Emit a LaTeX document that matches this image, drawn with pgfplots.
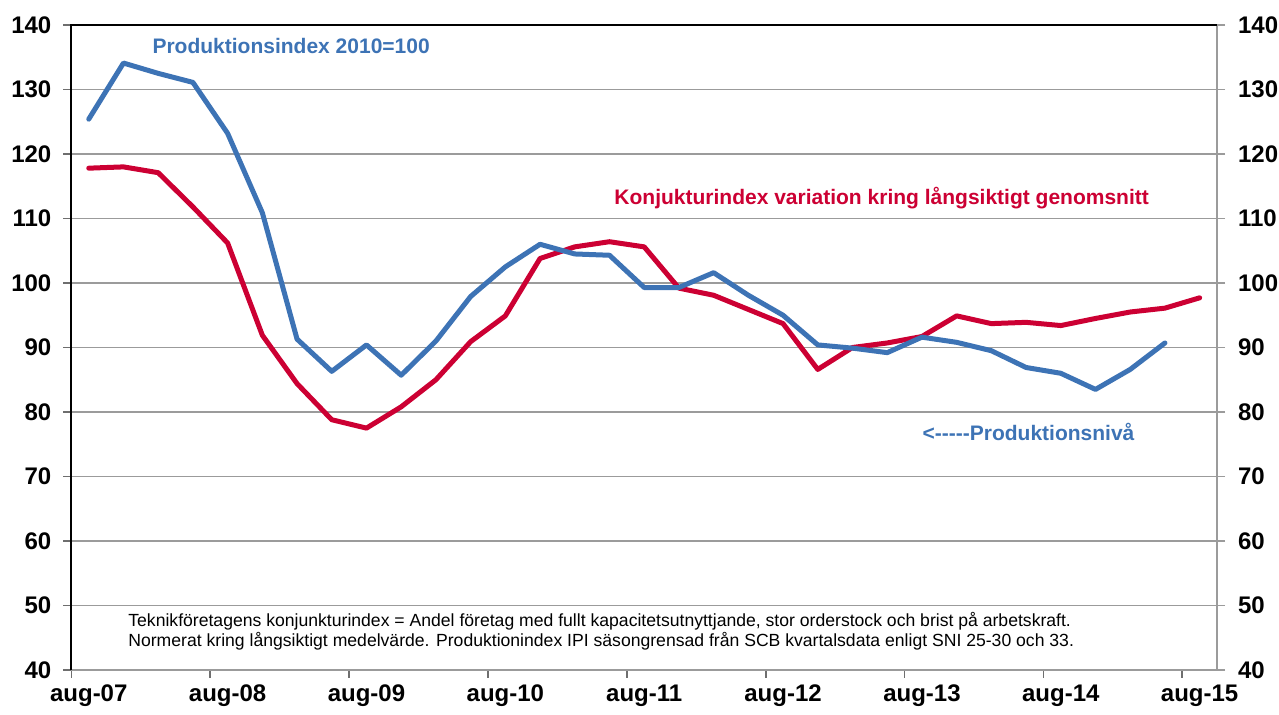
\documentclass[border=0pt]{standalone}
\usepackage{fontspec}
\setmainfont{Liberation Sans}
\usepackage{pgfplots}
\pgfplotsset{compat=1.18}
\definecolor{pblue}{RGB}{61,115,181}
\definecolor{pred}{RGB}{204,0,51}
\definecolor{gridc}{RGB}{155,155,155}
\definecolor{tickc}{RGB}{110,110,110}
\pgfplotstableread{
i v
0 125.4
1 134.1
2 132.5
3 131.1
4 123.2
5 110.9
6 91.3
7 86.3
8 90.4
9 85.7
10 91.0
11 97.9
12 102.5
13 106.0
14 104.5
15 104.3
16 99.3
17 99.3
18 101.6
19 98.1
20 95.0
21 90.4
22 89.9
23 89.2
24 91.6
25 90.8
26 89.5
27 86.9
28 86.0
29 83.5
30 86.6
31 90.7
}\bluedata
\pgfplotstableread{
i v
0 117.8
1 118.0
2 117.1
3 111.8
4 106.2
5 91.9
6 84.4
7 78.8
8 77.5
9 80.8
10 85.0
11 90.9
12 94.9
13 103.8
14 105.6
15 106.4
16 105.6
17 99.2
18 98.1
19 95.9
20 93.7
21 86.6
22 90.0
23 90.7
24 91.7
25 94.9
26 93.7
27 93.9
28 93.4
29 94.5
30 95.5
31 96.1
32 97.7
}\reddata
\begin{document}
\begin{tikzpicture}
\path[use as bounding box] (-35.7pt,-22.5pt) rectangle (603.8pt,335pt);
\begin{axis}[
  at={(0,0)}, anchor=south west,
  scale only axis, width=572.8pt, height=322.5pt,
  xmin=-0.5, xmax=32.5, ymin=40, ymax=140,
  ytick={40,50,...,140},
  xtick={-0.5,3.5,...,31.5},
  xticklabels={aug-07,aug-08,aug-09,aug-10,aug-11,aug-12,aug-13,aug-14,aug-15},
  xticklabel style={xshift=8.68pt, font=\fontsize{12}{14}\selectfont\bfseries},
  yticklabel style={xshift=-2.5pt, font=\fontsize{12}{14}\selectfont\bfseries},
  /pgf/number format/assume math mode=true,
  tick align=outside, xtick pos=bottom, ytick pos=left,
  major tick length=4pt,
  tick style={tickc, line width=0.8pt},
  axis line style={draw=none},
  ymajorgrids, major grid style={gridc, line width=0.9pt},
  clip=false,
]
\draw[gridc, line width=1pt] (rel axis cs:0,0) -- (rel axis cs:1,0) -- (rel axis cs:1,1);
\draw[black, line width=0.9pt] (rel axis cs:1,1) -- (rel axis cs:0,1) -- (rel axis cs:0,0);
\addplot[pred, line width=2.5pt, line join=round, line cap=round] table[x=i,y=v] {\reddata};
\addplot[pblue, line width=2.5pt, line join=round, line cap=round] table[x=i,y=v] {\bluedata};
\node[pblue, font=\fontsize{10.5}{12}\selectfont\bfseries] at (axis cs:5.83,136.7) {Produktionsindex 2010=100};
\node[pred, font=\fontsize{10.5}{12}\selectfont\bfseries] at (axis cs:22.84,113.2) {Konjukturindex variation kring långsiktigt genomsnitt};
\node[pblue, font=\fontsize{10.5}{12}\selectfont\bfseries] at (axis cs:27.07,76.9) {<{-}{-}{-}{-}{-}Produktionsnivå};
\node[anchor=west, align=left, inner sep=0pt, font=\fontsize{8.8}{10}\selectfont] at (axis cs:1.13,46.05) {Teknikföretagens konjunkturindex = Andel företag med fullt kapacitetsutnyttjande, stor orderstock och brist på arbetskraft.\\Normerat kring långsiktigt medelvärde. Produktionindex IPI säsongrensad från SCB kvartalsdata enligt SNI 25-30 och 33.};
\end{axis}
\begin{axis}[
  at={(0,0)}, anchor=south west,
  scale only axis, width=572.8pt, height=322.5pt,
  xmin=-0.5, xmax=32.5, ymin=40, ymax=140,
  ytick={40,50,...,140},
  axis x line=none, axis y line*=right,
  yticklabel style={xshift=3pt, font=\fontsize{12}{14}\selectfont\bfseries},
  /pgf/number format/assume math mode=true,
  tick align=outside, major tick length=4pt,
  tick style={gridc, line width=0.8pt},
  axis line style={draw=none},
]
\end{axis}
\end{tikzpicture}
\end{document}
